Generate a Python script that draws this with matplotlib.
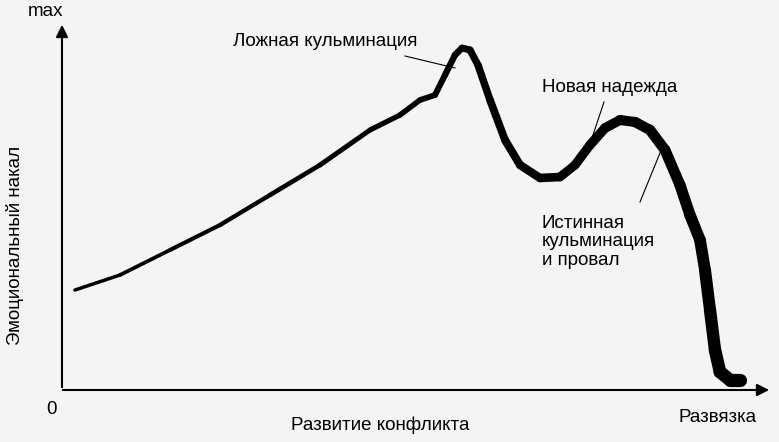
import matplotlib
matplotlib.use("Agg")
import matplotlib.pyplot as plt
import numpy as np

# schematic curve (x: conflict development, y: emotional intensity)
curve_x = [75,120,170,220,270,320,370,400,420,435,445,455,462,470,478,490,505,520,540,560,575,590,605,620,635,650,665,680,690,700,705,710,715,720,730,740]
curve_y = [290,275,250,225,195,165,130,115,100,95,75,55,48,50,65,100,140,165,178,177,165,145,128,120,122,130,150,185,215,240,270,310,350,372,380,380]

plt.rcParams['font.family'] = ['Liberation Sans', 'DejaVu Sans']

fig = plt.figure(figsize=(7.79,4.42), dpi=100)
ax = fig.add_axes([0,0,1,1])
ax.set_xlim(0,779); ax.set_ylim(442,0); ax.axis('off')
fig.patch.set_facecolor('#f4f4f4')

# axes arrows
ax.annotate('', xy=(62,22), xytext=(62,390), arrowprops=dict(arrowstyle='-|>', color='black', lw=1.5, mutation_scale=18))
ax.annotate('', xy=(772,390), xytext=(60,390), arrowprops=dict(arrowstyle='-|>', color='black', lw=1.5, mutation_scale=18))

# curve with thickness growing along it
n = len(curve_x)
for i in range(n-1):
    lw = 2.5 + 7*i/(n-2)
    ax.plot(curve_x[i:i+2], curve_y[i:i+2], color='black', lw=lw, solid_capstyle='round')

fs = 13.5
ax.text(28,12,'max',fontsize=fs,va='center',ha='left')
ax.text(52,410,'0',fontsize=fs,va='center',ha='center')
ax.text(380,425,'Развитие конфликта',fontsize=fs,va='center',ha='center')
ax.text(718,418,'Развязка',fontsize=fs,va='center',ha='center')
ax.text(15,245,'Эмоциональный накал',fontsize=fs,rotation=90,va='center',ha='center')
ax.text(325,42,'Ложная кульминация',fontsize=fs,va='center',ha='center')
ax.plot([405,455],[56,68],color='black',lw=0.8)
ax.text(610,88,'Новая надежда',fontsize=fs,va='center',ha='center')
ax.plot([604,592],[102,138],color='black',lw=0.8)
ax.text(542,242,'Истинная\nкульминация\nи провал',fontsize=fs,va='center',ha='left',linespacing=1.1)
ax.plot([640,662],[202,148],color='black',lw=0.8)

fig.savefig('out.png', dpi=100, facecolor=fig.get_facecolor())
